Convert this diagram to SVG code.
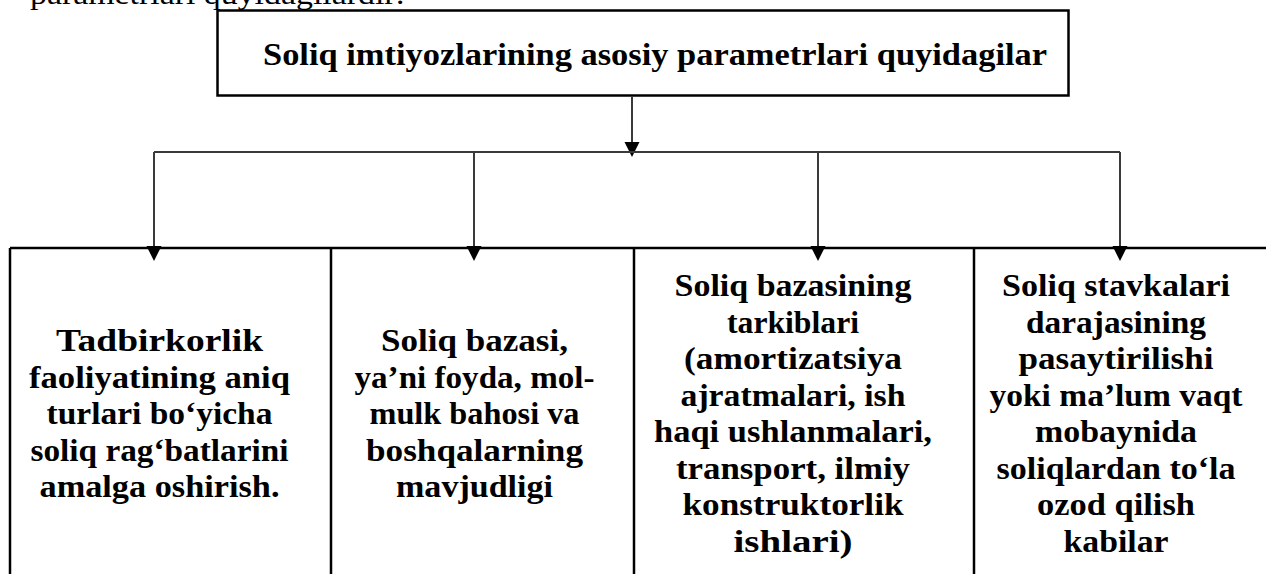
<svg xmlns="http://www.w3.org/2000/svg" width="1266" height="574" viewBox="0 0 1266 574">
<style>
.t{font-family:"Liberation Serif","DejaVu Serif",serif;font-weight:bold;font-size:31px;fill:#000;text-anchor:middle}
.top{font-family:"Liberation Serif","DejaVu Serif",serif;font-size:30px;fill:#000}
.box{fill:none;stroke:#000;stroke-width:2.5}
.conn{fill:none;stroke:#3a3a3a;stroke-width:2}
.ah{fill:#000}
</style>
<rect width="1266" height="574" fill="#fff"/>
<text class="top" x="30" y="4" textLength="375" lengthAdjust="spacingAndGlyphs">parametrlari quyidagilardir:</text>
<g id="title">
<rect class="box" x="217.5" y="10.5" width="851" height="85"/>
<text class="t" x="655" y="65" textLength="784" lengthAdjust="spacingAndGlyphs">Soliq imtiyozlarining asosiy parametrlari quyidagilar</text>
</g>
<g id="connectors">
<path class="conn" d="M632,96 V142"/>
<path class="ah" d="M624.5,142 L639.5,142 L632,157 Z"/>
<path class="conn" d="M154,152 H1120"/>
<path class="conn" d="M154,152 V246"/>
<path class="conn" d="M474,152 V246"/>
<path class="conn" d="M818,152 V246"/>
<path class="conn" d="M1120,152 V246"/>
</g>
<g id="table">
<path class="box" d="M10,248 H1266 M10,248 V574 M331,248 V574 M634,248 V574 M974,248 V574"/>
</g>
<g id="arrowheads">
<path class="ah" d="M146.5,246 L161.5,246 L154,261 Z"/>
<path class="ah" d="M466.5,246 L481.5,246 L474,261 Z"/>
<path class="ah" d="M810.5,246 L825.5,246 L818,261 Z"/>
<path class="ah" d="M1112.5,246 L1127.5,246 L1120,261 Z"/>
</g>
<g id="node1">
<text class="t" x="159.5" y="351" textLength="207" lengthAdjust="spacingAndGlyphs">Tadbirkorlik</text>
<text class="t" x="159.5" y="387.5" textLength="261" lengthAdjust="spacingAndGlyphs">faoliyatining aniq</text>
<text class="t" x="159.5" y="424" textLength="226" lengthAdjust="spacingAndGlyphs">turlari bo‘yicha</text>
<text class="t" x="159.5" y="460.5" textLength="258" lengthAdjust="spacingAndGlyphs">soliq rag‘batlarini</text>
<text class="t" x="159.5" y="497" textLength="240" lengthAdjust="spacingAndGlyphs">amalga oshirish.</text>
</g>
<g id="node2">
<text class="t" x="474.5" y="351" textLength="187" lengthAdjust="spacingAndGlyphs">Soliq bazasi,</text>
<text class="t" x="474.5" y="387.5" textLength="240" lengthAdjust="spacingAndGlyphs">ya’ni foyda, mol-</text>
<text class="t" x="474.5" y="424" textLength="210" lengthAdjust="spacingAndGlyphs">mulk bahosi va</text>
<text class="t" x="474.5" y="460.5" textLength="217" lengthAdjust="spacingAndGlyphs">boshqalarning</text>
<text class="t" x="474.5" y="497" textLength="157" lengthAdjust="spacingAndGlyphs">mavjudligi</text>
</g>
<g id="node3">
<text class="t" x="793" y="296" textLength="237" lengthAdjust="spacingAndGlyphs">Soliq bazasining</text>
<text class="t" x="793" y="332.5" textLength="132" lengthAdjust="spacingAndGlyphs">tarkiblari</text>
<text class="t" x="793" y="369" textLength="218" lengthAdjust="spacingAndGlyphs">(amortizatsiya</text>
<text class="t" x="793" y="405.5" textLength="225" lengthAdjust="spacingAndGlyphs">ajratmalari, ish</text>
<text class="t" x="793" y="442" textLength="278" lengthAdjust="spacingAndGlyphs">haqi ushlanmalari,</text>
<text class="t" x="793" y="478.5" textLength="234" lengthAdjust="spacingAndGlyphs">transport, ilmiy</text>
<text class="t" x="793" y="515" textLength="221" lengthAdjust="spacingAndGlyphs">konstruktorlik</text>
<text class="t" x="793" y="551.5" textLength="119" lengthAdjust="spacingAndGlyphs">ishlari)</text>
</g>
<g id="node4">
<text class="t" x="1116" y="296" textLength="228" lengthAdjust="spacingAndGlyphs">Soliq stavkalari</text>
<text class="t" x="1116" y="332.5" textLength="180" lengthAdjust="spacingAndGlyphs">darajasining</text>
<text class="t" x="1116" y="369" textLength="195" lengthAdjust="spacingAndGlyphs">pasaytirilishi</text>
<text class="t" x="1116" y="405.5" textLength="253" lengthAdjust="spacingAndGlyphs">yoki ma’lum vaqt</text>
<text class="t" x="1116" y="442" textLength="162" lengthAdjust="spacingAndGlyphs">mobaynida</text>
<text class="t" x="1116" y="478.5" textLength="239" lengthAdjust="spacingAndGlyphs">soliqlardan to‘la</text>
<text class="t" x="1116" y="515" textLength="158" lengthAdjust="spacingAndGlyphs">ozod qilish</text>
<text class="t" x="1116" y="551.5" textLength="105" lengthAdjust="spacingAndGlyphs">kabilar</text>
</g>
</svg>
